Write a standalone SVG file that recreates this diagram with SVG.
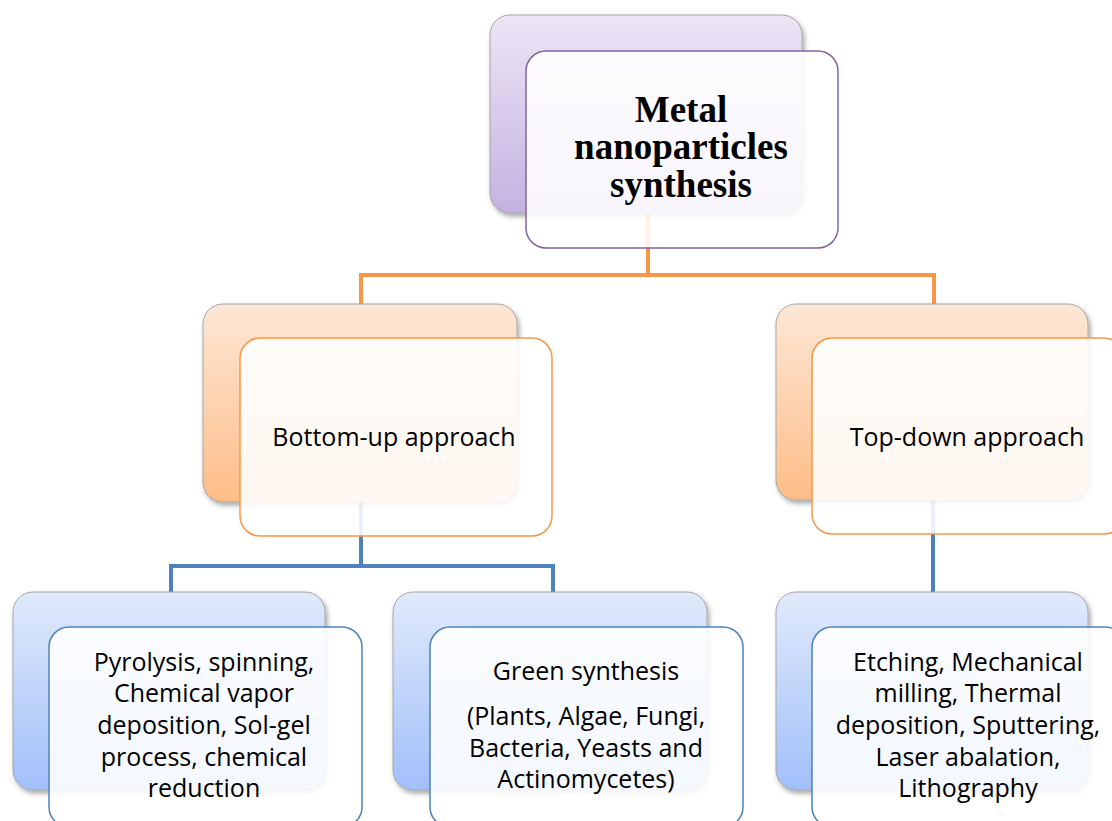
<svg xmlns="http://www.w3.org/2000/svg" width="1112" height="821" viewBox="0 0 1112 821">
<defs>
<linearGradient id="gP" x1="0" y1="0" x2="0" y2="1"><stop offset="0" stop-color="#ece6f5"/><stop offset="1" stop-color="#c4b1e1"/></linearGradient>
<linearGradient id="gO" x1="0" y1="0" x2="0" y2="1"><stop offset="0" stop-color="#fde7d6"/><stop offset="1" stop-color="#fdbd87"/></linearGradient>
<linearGradient id="gB" x1="0" y1="0" x2="0" y2="1"><stop offset="0" stop-color="#e0eafb"/><stop offset="1" stop-color="#a1bff9"/></linearGradient>
<filter id="sh" x="-10%" y="-10%" width="125%" height="125%"><feDropShadow dx="2" dy="3" stdDeviation="2.5" flood-color="#000" flood-opacity="0.35"/></filter>
</defs>
<style>
.back{stroke:#a6a6a6;stroke-width:1;filter:url(#sh)}
.front{fill:#ffffff;fill-opacity:0.88;stroke-width:1.5}
.fp{stroke:#8064a2}.fo{stroke:#f79646}.fb{stroke:#4f81bd}
.co{fill:none;stroke:#f79646;stroke-width:4}
.cb{fill:none;stroke:#4f81bd;stroke-width:4}
.t{font-family:"Open Sans","Liberation Sans",sans-serif;font-size:25px;fill:#000;text-anchor:middle}
.h{font-family:"Liberation Serif","Times New Roman",serif;font-size:37px;font-weight:bold;fill:#000;text-anchor:middle}
</style>
<rect width="1112" height="821" fill="#ffffff"/>
<g id="connectors">
<path class="co" d="M648,200 V275 M361,304 V275 H934 V304"/>
<path class="cb" d="M361,500 V566 M171,592 V566 H553 V592"/>
<path class="cb" d="M933,500 V592"/>
</g>
<g id="root">
<rect class="back" x="490" y="15" width="312" height="198" rx="20" fill="url(#gP)"/>
<rect class="front fp" x="526" y="51" width="312" height="197" rx="20"/>
<text class="h" x="681" y="122">Metal</text>
<text class="h" x="681" y="159">nanoparticles</text>
<text class="h" x="681" y="197">synthesis</text>
</g>
<g id="bottom-up">
<rect class="back" x="203" y="304" width="314" height="198" rx="20" fill="url(#gO)"/>
<rect class="front fo" x="240" y="338" width="312" height="198" rx="20"/>
<text class="t" x="394" y="446">Bottom-up approach</text>
</g>
<g id="top-down">
<rect class="back" x="776" y="304" width="312" height="196" rx="20" fill="url(#gO)"/>
<rect class="front fo" x="812" y="338" width="312" height="196" rx="20"/>
<text class="t" x="967" y="446">Top-down approach</text>
</g>
<g id="leaf-chemical">
<rect class="back" x="13" y="592" width="312" height="198" rx="20" fill="url(#gB)"/>
<rect class="front fb" x="49" y="627" width="313" height="200" rx="20"/>
<text class="t" x="204" y="671">Pyrolysis, spinning,</text>
<text class="t" x="204" y="702">Chemical vapor</text>
<text class="t" x="204" y="734">deposition, Sol-gel</text>
<text class="t" x="204" y="766">process, chemical</text>
<text class="t" x="204" y="797">reduction</text>
</g>
<g id="leaf-green">
<rect class="back" x="393" y="592" width="314" height="198" rx="20" fill="url(#gB)"/>
<rect class="front fb" x="430" y="627" width="313" height="200" rx="20"/>
<text class="t" x="586" y="680">Green synthesis</text>
<text class="t" x="586" y="725">(Plants, Algae, Fungi,</text>
<text class="t" x="586" y="757">Bacteria, Yeasts and</text>
<text class="t" x="586" y="788">Actinomycetes)</text>
</g>
<g id="leaf-topdown">
<rect class="back" x="776" y="592" width="312" height="198" rx="20" fill="url(#gB)"/>
<rect class="front fb" x="812" y="627" width="313" height="200" rx="20"/>
<text class="t" x="968" y="671">Etching, Mechanical</text>
<text class="t" x="968" y="702">milling, Thermal</text>
<text class="t" x="968" y="734">deposition, Sputtering,</text>
<text class="t" x="968" y="766">Laser abalation,</text>
<text class="t" x="968" y="797">Lithography</text>
</g>
</svg>
